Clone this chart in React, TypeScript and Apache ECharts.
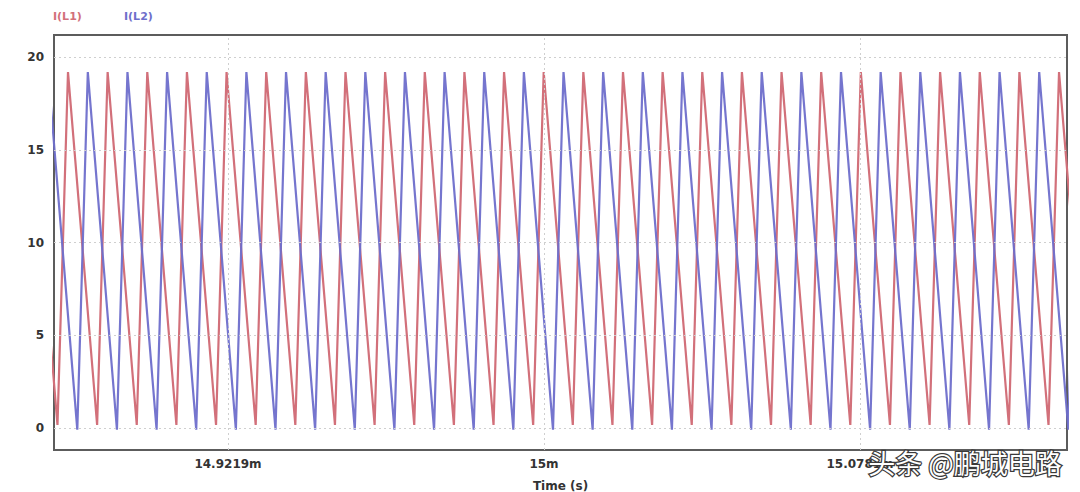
import React, { useEffect, useRef } from "react";
import * as echarts from "echarts";

// ---- axis data ----
const xMin = 14.87886; // ms
const xMax = 15.12929; // ms
const yMin = -1.2;
const yMax = 21.2;
const xTickValues = [14.921875, 15, 15.078125];
const xTickLabels = ["14.9219m", "15m", "15.0781m"];
const yTickValues = [0, 5, 10, 15, 20];
const yTickLabels = ["0", "5", "10", "15", "20"];
const xAxisTitle = "Time (s)";
const seriesNames = ["I(L1)", "I(L2)"];

// ---- I(L1) vertices (ms) ----
const l1PeakTimes = [
  14.87252, 14.88232, 14.89212, 14.90192, 14.91172, 14.92152, 14.93132, 14.94112, 14.95092,
  14.96072, 14.97052, 14.98032, 14.99012, 14.99992, 15.00972, 15.01952, 15.02932, 15.03912,
  15.04892, 15.05872, 15.06852, 15.07832, 15.08812, 15.09792, 15.10772, 15.11752, 15.12732,
];
const l1ValleyTimes = [
  14.87972, 14.88952, 14.89932, 14.90912, 14.91892, 14.92872, 14.93852, 14.94832, 14.95812,
  14.96792, 14.97772, 14.98752, 14.99732, 15.00712, 15.01692, 15.02672, 15.03652, 15.04632,
  15.05612, 15.06592, 15.07572, 15.08552, 15.09532, 15.10512, 15.11492, 15.12472, 15.13452,
];
const l1PeakValue = 19.2;
const l1ValleyValue = 0.15;

// ---- I(L2) vertices (ms) ----
const l2PeakTimes = [
  14.87742, 14.88722, 14.89702, 14.90682, 14.91662, 14.92642, 14.93622, 14.94602, 14.95582,
  14.96562, 14.97542, 14.98522, 14.99502, 15.00482, 15.01462, 15.02442, 15.03422, 15.04402,
  15.05382, 15.06362, 15.07342, 15.08322, 15.09302, 15.10282, 15.11262, 15.12242, 15.13222,
];
const l2ValleyTimes = [
  14.87482, 14.88462, 14.89442, 14.90422, 14.91402, 14.92382, 14.93362, 14.94342, 14.95322,
  14.96302, 14.97282, 14.98262, 14.99242, 15.00222, 15.01202, 15.02182, 15.03162, 15.04142,
  15.05122, 15.06102, 15.07082, 15.08062, 15.09042, 15.10022, 15.11002, 15.11982, 15.12962,
];
const l2PeakValue = 19.2;
const l2ValleyValue = -0.1;

const watermark = "头条 @鹏城电路";

function buildSeries(peaks: number[], pv: number, valleys: number[], vv: number) {
  const pts: [number, number][] = [];
  peaks.forEach((t) => pts.push([t, pv]));
  valleys.forEach((t) => pts.push([t, vv]));
  pts.sort((a, b) => a[0] - b[0]);
  return pts;
}

const RED = "#d2707a";
const BLUE = "#6e6ecb";
const LABEL_FONT = "DejaVu Sans";

export default function App() {
  const ref = useRef<HTMLDivElement>(null);
  useEffect(() => {
    if (!ref.current) return;
    const chart = echarts.init(ref.current, undefined, { renderer: "svg" });
    const l1 = buildSeries(l1PeakTimes, l1PeakValue, l1ValleyTimes, l1ValleyValue);
    const l2 = buildSeries(l2PeakTimes, l2PeakValue, l2ValleyTimes, l2ValleyValue);
    const gridLineStyle = { color: "#cfcfcf", width: 1, type: [2, 3] as any };
    chart.setOption({
      animation: false,
      backgroundColor: "#ffffff",
      grid: {
        left: 54,
        right: 13,
        top: 35,
        bottom: 42,
        show: true,
        borderColor: "#5c5c5c",
        borderWidth: 2,
        backgroundColor: "#ffffff",
        containLabel: false,
        outerBoundsMode: "none",
      },
      xAxis: {
        type: "value",
        min: xMin,
        max: xMax,
        name: xAxisTitle,
        nameLocation: "middle",
        nameGap: 30,
        nameTextStyle: { fontFamily: LABEL_FONT, fontWeight: "bold", fontSize: 12, color: "#333" },
        axisLine: { show: false },
        axisTick: { show: false, customValues: xTickValues },
        splitLine: { show: false },
        axisLabel: {
          customValues: xTickValues,
          margin: 8,
          fontFamily: LABEL_FONT,
          fontWeight: "bold",
          fontSize: 12,
          color: "#333",
          formatter: (v: number) => {
            let best = 0;
            xTickValues.forEach((tv, i) => {
              if (Math.abs(tv - v) < Math.abs(xTickValues[best] - v)) best = i;
            });
            return xTickLabels[best];
          },
        },
      },
      yAxis: {
        type: "value",
        min: yMin,
        max: yMax,
        axisLine: { show: false },
        axisTick: { show: false, customValues: yTickValues },
        splitLine: { show: false },
        axisLabel: {
          customValues: yTickValues,
          margin: 10,
          fontFamily: LABEL_FONT,
          fontWeight: "bold",
          fontSize: 12,
          color: "#333",
          formatter: (v: number) => {
            const i = yTickValues.findIndex((t) => Math.abs(t - v) < 1e-6);
            return i >= 0 ? yTickLabels[i] : "";
          },
        },
      },
      series: [
        {
          type: "line",
          name: "grid",
          data: [],
          z: 1,
          silent: true,
          markLine: {
            silent: true,
            symbol: "none",
            precision: 8,
            label: { show: false },
            lineStyle: gridLineStyle,
            data: [
              ...yTickValues.map((v) => ({ yAxis: v })),
              ...xTickValues.map((v) => ({ xAxis: v })),
            ],
          },
        },
        {
          type: "line",
          name: seriesNames[0],
          data: l1,
          showSymbol: false,
          z: 3,
          lineStyle: { color: RED, width: 2.2 },
          itemStyle: { color: RED },
        },
        {
          type: "line",
          name: seriesNames[1],
          data: l2,
          showSymbol: false,
          z: 4,
          lineStyle: { color: BLUE, width: 2.2, opacity: 0.95 },
          itemStyle: { color: BLUE },
        },
      ],
      graphic: [
        {
          type: "text",
          left: 53,
          top: 11,
          style: {
            text: seriesNames[0],
            fill: RED,
            font: `bold 11px ${LABEL_FONT}`,
          },
        },
        {
          type: "text",
          left: 124,
          top: 11,
          style: {
            text: seriesNames[1],
            fill: BLUE,
            font: `bold 11px ${LABEL_FONT}`,
          },
        },
        {
          type: "text",
          left: 867,
          top: 448,
          z: 100,
          style: {
            text: watermark,
            fill: "#ffffff",
            stroke: "#3a3a3a",
            lineWidth: 2.5,
            font: `27px "Noto Sans CJK SC"`,
          },
        },
      ],
    });
    return () => chart.dispose();
  }, []);
  return (
    <div
      ref={ref}
      style={{ position: "fixed", left: 0, top: 0, width: 1080, height: 492, background: "#fff" }}
    />
  );
}
